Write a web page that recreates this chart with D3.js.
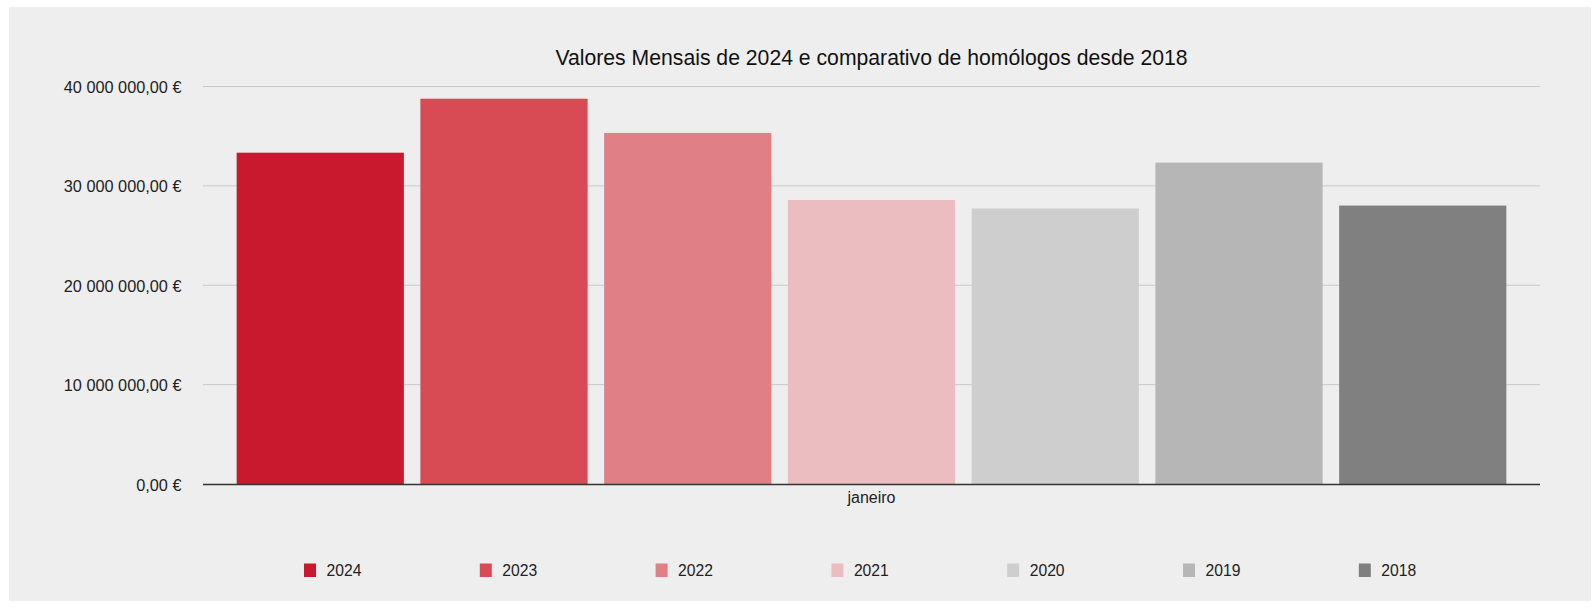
<!DOCTYPE html>
<html>
<head>
<meta charset="utf-8">
<script src="https://cdn.jsdelivr.net/npm/d3@7"></script>
<style>
  body { margin: 0; background: #fff; }
  text { font-family: Helvetica, Arial, "Liberation Sans", sans-serif; fill: #222; }
</style>
</head>
<body>
<div class="d3"></div>
<script>
const months = ["janeiro"];
const years = ["2024", "2023", "2022", "2021", "2020", "2019", "2018"];
const values = [33340000, 38770000, 35330000, 28580000, 27720000, 32340000, 28020000];
const colors = ["#c8192f", "#d84b55", "#e17f86", "#ebbcc0", "#cecece", "#b6b6b6", "#808080"];
const yTicks = [0, 10000000, 20000000, 30000000, 40000000];
const title = "Valores Mensais de 2024 e comparativo de homólogos desde 2018";

function main() {
    const width = 1595;
    const height = 608;
    const plot = { left: 203, right: 1540, top: 86.5, bottom: 484 };

    const svg = d3.select(".d3")
        .append("svg")
        .attr("width", width)
        .attr("height", height);

    svg.append("rect")
        .attr("x", 9).attr("y", 7)
        .attr("width", 1582).attr("height", 594)
        .attr("fill", "#eeeeee");

    const y = d3.scaleLinear()
        .domain([0, 40000000])
        .range([plot.bottom, plot.top]);

    const x0 = d3.scaleBand()
        .domain(months)
        .range([plot.left, plot.right])
        .paddingOuter(0.0265);

    const x1 = d3.scaleBand()
        .domain(years)
        .range([0, x0.bandwidth()])
        .paddingInner(0.09);

    const fmt = v => d3.format(",.2f")(v).replace(/,/g, " ").replace(".", ",") + " €";

    // gridlines
    svg.append("g")
        .selectAll("line")
        .data(yTicks.filter(d => d > 0))
        .enter()
        .append("line")
        .attr("x1", plot.left).attr("x2", plot.right)
        .attr("y1", d => y(d)).attr("y2", d => y(d))
        .attr("stroke", "#c8c8c8")
        .attr("stroke-width", 1);

    // y labels
    svg.append("g")
        .selectAll("text")
        .data(yTicks)
        .enter()
        .append("text")
        .attr("x", 181.5)
        .attr("y", d => y(d) + 6.5)
        .attr("text-anchor", "end")
        .style("font-size", "16.3px")
        .text(fmt);

    // bars
    const g = svg.append("g")
        .attr("transform", "translate(" + x0(months[0]) + ",0)");
    g.selectAll("rect")
        .data(years)
        .enter()
        .append("rect")
        .attr("x", d => x1(d))
        .attr("y", (d, i) => y(values[i]))
        .attr("width", x1.bandwidth())
        .attr("height", (d, i) => y(0) - y(values[i]))
        .attr("fill", (d, i) => colors[i]);

    // baseline
    svg.append("line")
        .attr("x1", plot.left).attr("x2", plot.right)
        .attr("y1", y(0) + 0.5).attr("y2", y(0) + 0.5)
        .attr("stroke", "#333")
        .attr("stroke-width", 1.5);

    svg.append("text")
        .attr("x", x0(months[0]) + x0.bandwidth() / 2)
        .attr("y", 503)
        .attr("text-anchor", "middle")
        .style("font-size", "16px")
        .text(months[0]);

    svg.append("text")
        .attr("x", (plot.left + plot.right) / 2)
        .attr("y", 65)
        .attr("text-anchor", "middle")
        .style("font-size", "21.2px")
        .style("fill", "#111")
        .text(title);

    // legend
    const lx = d3.scaleBand()
        .domain(years)
        .range([304, 304 + 175.8 * years.length]);
    const items = svg.append("g")
        .selectAll("g")
        .data(years)
        .enter()
        .append("g")
        .attr("transform", d => "translate(" + lx(d) + ",0)");
    items.append("rect")
        .attr("x", 0).attr("y", 563.5)
        .attr("width", 12).attr("height", 13.5)
        .attr("fill", (d, i) => colors[i]);
    items.append("text")
        .attr("x", 22.5).attr("y", 576)
        .style("font-size", "15.7px")
        .text(d => d);
}
main();
</script>
</body>
</html>
